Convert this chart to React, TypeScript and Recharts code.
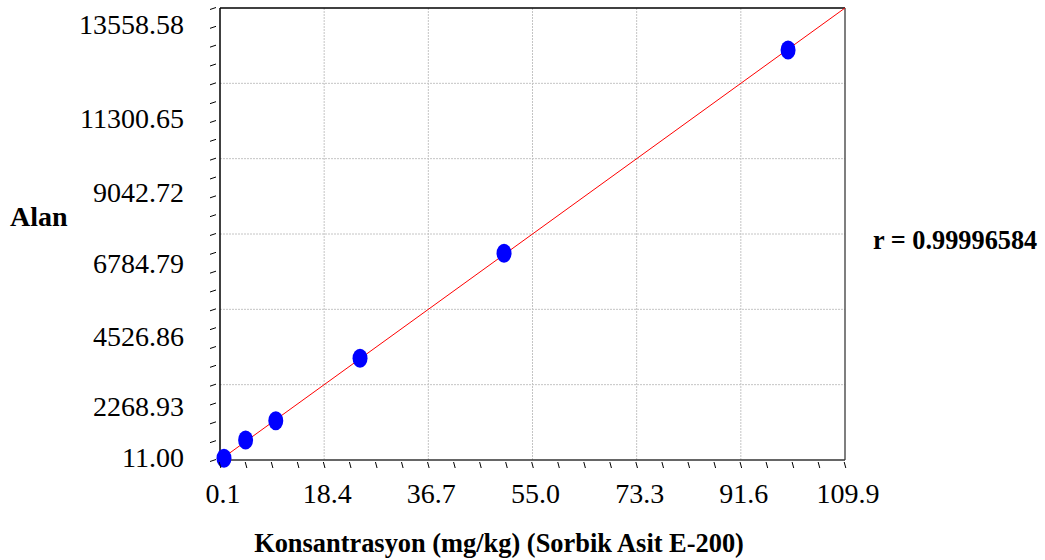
import React from 'react';
import { ComposedChart, XAxis, YAxis, Scatter, Line, ReferenceLine } from 'recharts';

// calibration standards
const concentrations = [0.8, 4.6, 9.9, 24.7, 50.0, 99.9];
const areas = [62, 610, 1189, 3059, 6206, 12299];

// fitted line ends
const fitX = [0.1, 109.9];
const fitY = [11, 13558.58];

const xMajorTicks = [0.1, 18.4, 36.7, 55.0, 73.3, 91.6, 109.9];
const xTickLabels = ['0.1', '18.4', '36.7', '55.0', '73.3', '91.6', '109.9'];
const yMajorTicks = [11, 2268.93, 4526.86, 6784.79, 9042.72, 11300.65, 13558.58];
const yTickLabels = ['11.00', '2268.93', '4526.86', '6784.79', '9042.72', '11300.65', '13558.58'];

// the original puts its y labels a bit off the gridlines
const yLabelShift = [-3, 22, 27, 29, 34, 35, 16];

const FONT = "'Liberation Serif', 'Times New Roman', serif";

const withMinor = (majors: number[]) =>
  majors.flatMap((v, i) =>
    i === majors.length - 1 ? [v] : [0, 1, 2, 3].map((k) => v + ((majors[i + 1] - v) * k) / 4)
  );

const scatterData = concentrations.map((x, i) => ({ x, area: areas[i] }));
const fitData = fitX.map((x, i) => ({ x, fit: fitY[i] }));

function XTick({ x, y, payload }: any) {
  const i = xMajorTicks.indexOf(payload.value);
  return (
    <g>
      <line x1={x - 0.8} y1={y + 2} x2={x + 0.8} y2={y + 8} stroke="#000" strokeWidth={1} />
      {i >= 0 && (
        <text x={x + 3} y={y + 33} textAnchor="middle" dominantBaseline="central" fontSize={28} fontFamily={FONT} fill="#000">
          {xTickLabels[i]}
        </text>
      )}
    </g>
  );
}

function YTick({ x, y, payload }: any) {
  const i = yMajorTicks.indexOf(payload.value);
  return (
    <g>
      <line x1={x - 10} y1={y + 1.5} x2={x - 4} y2={y - 0.5} stroke="#000" strokeWidth={1} />
      {i >= 0 && (
        <text x={x - 36} y={y + yLabelShift[i]} textAnchor="end" dominantBaseline="central" fontSize={28} fontFamily={FONT} fill="#000">
          {yTickLabels[i]}
        </text>
      )}
    </g>
  );
}

const Dot = ({ cx, cy }: any) => <ellipse cx={cx} cy={cy} rx={7.5} ry={9.5} fill="#0000ff" />;

export default function App() {
  return (
    <div style={{ position: 'absolute', left: 0, top: 0, width: 1045, height: 560, background: '#fff' }}>
      <ComposedChart width={1045} height={560} margin={{ top: 8, right: 200, bottom: 0, left: 0 }}>
        <XAxis
          type="number"
          dataKey="x"
          domain={[0.1, 109.9]}
          ticks={withMinor(xMajorTicks)}
          interval={0}
          height={100}
          tickSize={0}
          tickMargin={0}
          tickLine={false}
          tick={<XTick />}
          axisLine={{ stroke: '#333', strokeWidth: 1.5 }}
        />
        <YAxis
          type="number"
          domain={[11, 13558.58]}
          ticks={withMinor(yMajorTicks)}
          interval={0}
          width={220}
          tickSize={0}
          tickMargin={0}
          tickLine={false}
          tick={<YTick />}
          axisLine={{ stroke: '#000', strokeWidth: 1.5 }}
        />
        {xMajorTicks.slice(1, -1).map((v) => (
          <ReferenceLine key={'vx' + v} x={v} stroke="#c4c4c4" strokeDasharray="2 1" />
        ))}
        {yMajorTicks.slice(1, -1).map((v) => (
          <ReferenceLine key={'hy' + v} y={v} stroke="#c4c4c4" strokeDasharray="2 1" />
        ))}
        <ReferenceLine y={13558.58} stroke="#000" strokeWidth={1.5} />
        <ReferenceLine x={109.9} stroke="#555" strokeWidth={1.5} />
        <Scatter data={scatterData} dataKey="area" shape={<Dot />} isAnimationActive={false} />
        <Line data={fitData} dataKey="fit" type="linear" stroke="#ff0000" strokeWidth={1} dot={false} isAnimationActive={false} />
      </ComposedChart>
      <svg width={1045} height={560} style={{ position: 'absolute', left: 0, top: 0, pointerEvents: 'none' }}>
        <text x={10} y={216} dominantBaseline="central" fontSize={28} fontWeight="bold" fontFamily={FONT} fill="#000">
          Alan
        </text>
        <text x={873} y={240} dominantBaseline="central" fontSize={26.3} fontWeight="bold" fontFamily={FONT} fill="#000">
          r = 0.99996584
        </text>
        <text x={499} y={543} textAnchor="middle" dominantBaseline="central" fontSize={26.4} fontWeight="bold" fontFamily={FONT} fill="#000">
          Konsantrasyon (mg/kg) (Sorbik Asit E-200)
        </text>
      </svg>
    </div>
  );
}
